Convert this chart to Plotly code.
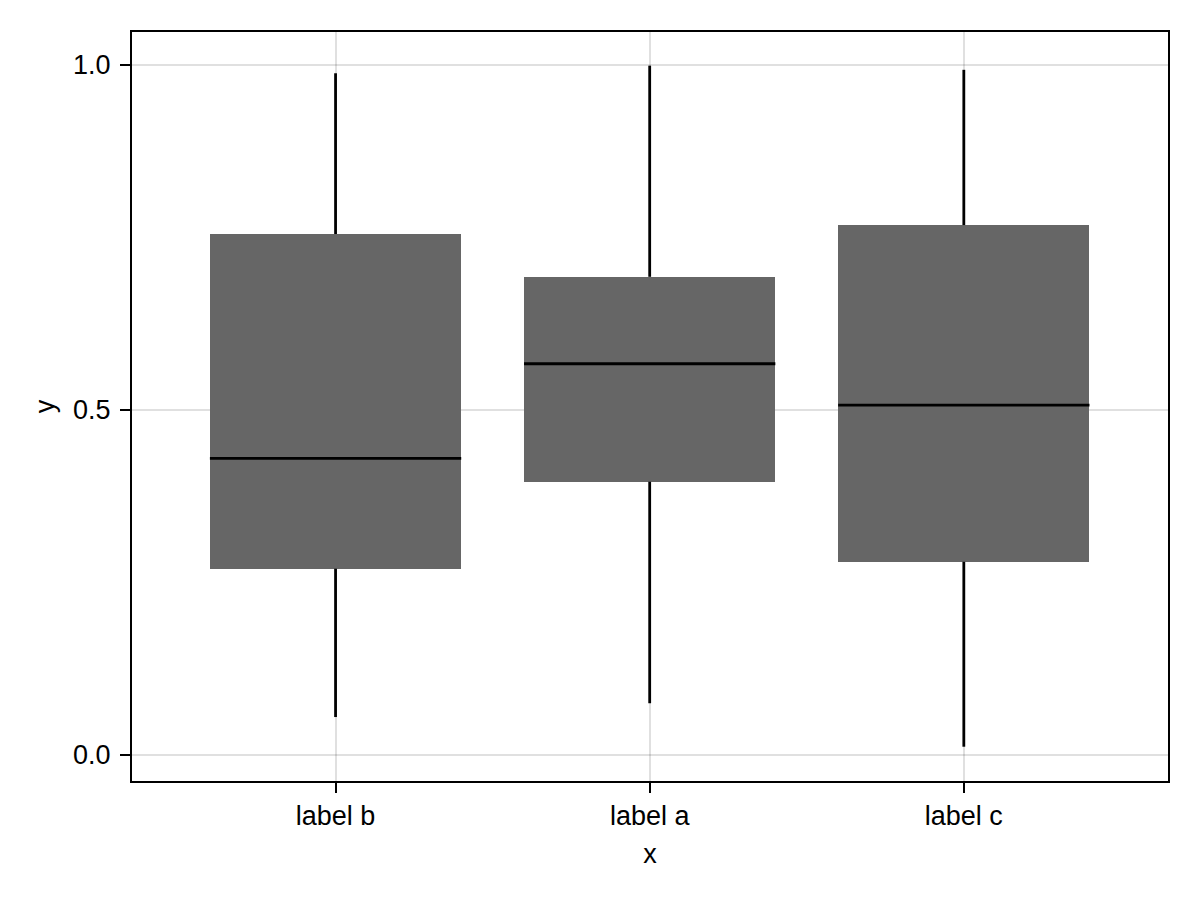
import plotly.graph_objects as go

categories = ["label b", "label a", "label c"]
positions = [1, 2, 3]
lower_whisker = [0.055, 0.075, 0.012]
q1 = [0.270, 0.396, 0.280]
median = [0.430, 0.567, 0.507]
q3 = [0.755, 0.693, 0.768]
upper_whisker = [0.988, 0.999, 0.993]

box_width = 0.8
font = dict(family="Liberation Sans, Arial, sans-serif", size=27, color="black")

fig = go.Figure()

# boxes
fig.add_trace(go.Bar(
    x=positions,
    y=[b - a for a, b in zip(q1, q3)],
    base=q1,
    width=box_width,
    marker=dict(color="#666666", line=dict(width=0)),
    showlegend=False,
    hoverinfo="skip",
))

# whiskers
wx, wy = [], []
for p, lo, a, b, hi in zip(positions, lower_whisker, q1, q3, upper_whisker):
    wx += [p, p, None, p, p, None]
    wy += [lo, a, None, b, hi, None]
fig.add_trace(go.Scatter(x=wx, y=wy, mode="lines",
                         line=dict(color="black", width=2.8),
                         showlegend=False, hoverinfo="skip"))

# medians
mx, my = [], []
for p, m in zip(positions, median):
    mx += [p - box_width / 2, p + box_width / 2, None]
    my += [m, m, None]
fig.add_trace(go.Scatter(x=mx, y=my, mode="lines",
                         line=dict(color="black", width=2.8),
                         showlegend=False, hoverinfo="skip"))

axis_common = dict(
    showline=True, mirror=True, linecolor="black", linewidth=2,
    ticks="outside", ticklen=10, tickwidth=2, tickcolor="black",
    showgrid=True, gridcolor="rgba(0,0,0,0.12)", gridwidth=2,
    zeroline=False, tickfont=font,
)

fig.update_layout(
    width=1200, height=900,
    paper_bgcolor="white", plot_bgcolor="white",
    margin=dict(l=124, r=40, t=24, b=127),
    font=font,
    bargap=0,
    xaxis=dict(
        range=[0.352, 3.65],
        tickvals=positions, ticktext=categories,
        title=dict(text="x", font=font, standoff=14),
        **axis_common,
    ),
    yaxis=dict(
        range=[-0.0377, 1.0478],
        tickvals=[0.0, 0.5, 1.0], ticktext=["0.0", "0.5", "1.0"],
        ticklabelstandoff=4,
        title=dict(text="y", font=font, standoff=11),
        **axis_common,
    ),
)

fig.write_html("out.html")
